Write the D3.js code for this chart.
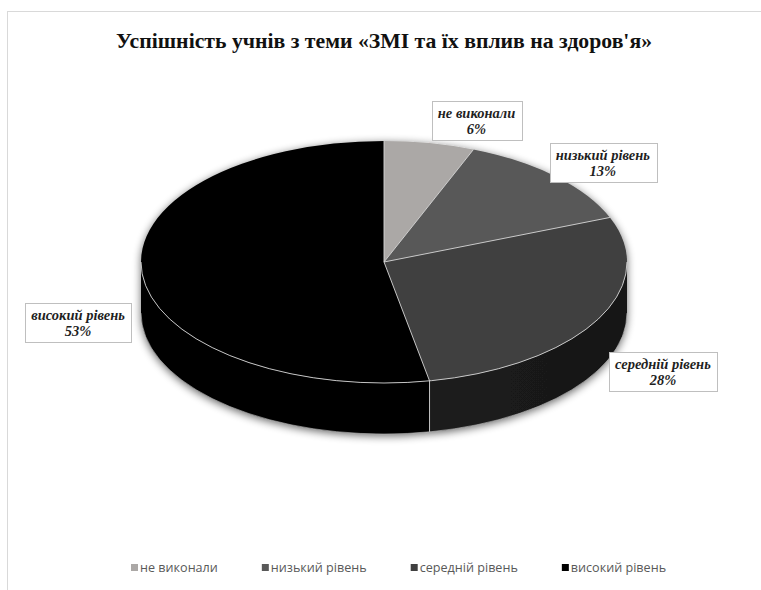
<!DOCTYPE html>
<html>
<head>
<meta charset="utf-8">
<script src="https://cdn.jsdelivr.net/npm/d3@7"></script>
<style>
  html, body { margin: 0; padding: 0; background: #fff; }
  svg { display: block; }
</style>
</head>
<body>
<svg id="chart" width="761" height="590"></svg>
<script>
// ---- data ----
const title = "Успішність учнів з теми «ЗМІ та їх вплив на здоров'я»";
const categories = ["не виконали", "низький рівень", "середній рівень", "високий рівень"];
const values = [6, 13, 28, 53];
const percentLabels = ["6%", "13%", "28%", "53%"];
const topColors = ["#aba8a6", "#595959", "#404040", "#000000"];
const sideColors = ["#8a8786", "#3a3a3a", "#1e1e1e", "#000000"];
// label offsets (layout) from the slice's mid point on the rim
const labelOffsets = [[47, -22], [47, -13], [66, 52], [-64, 50]];

// ---- layout ----
const W = 761, H = 590;
const cx = 384, cy = 262, rx = 243, ry = 121, depth = 51;

const svg = d3.select("#chart");

// chart border
svg.append("rect")
  .attr("x", 7.5).attr("y", 11.5).attr("width", 800).attr("height", 640)
  .attr("fill", "#fff").attr("stroke", "#d9d9d9").attr("stroke-width", 1);

// title
const tt = svg.append("text")
  .attr("x", cx).attr("y", 48)
  .attr("text-anchor", "middle")
  .attr("font-family", "'Liberation Serif', 'Times New Roman', serif")
  .attr("font-weight", "bold")
  .attr("font-size", 22)
  .attr("fill", "#111")
  .text(title);
if (tt.node().getComputedTextLength() > 536) {
  tt.attr("textLength", 536).attr("lengthAdjust", "spacingAndGlyphs");
}

const defs = svg.append("defs");
const f = defs.append("filter").attr("id", "shadow")
  .attr("x", "-10%").attr("y", "-10%").attr("width", "120%").attr("height", "130%");
f.append("feGaussianBlur").attr("in", "SourceAlpha").attr("stdDeviation", 4).attr("result", "b");
f.append("feOffset").attr("in", "b").attr("dx", 0).attr("dy", 2).attr("result", "o");
f.append("feComponentTransfer").attr("in", "o").attr("result", "s")
  .append("feFuncA").attr("type", "linear").attr("slope", 0.6);
const m = f.append("feMerge");
m.append("feMergeNode").attr("in", "s");
m.append("feMergeNode").attr("in", "SourceGraphic");

const sideGrad = defs.append("linearGradient").attr("id", "sideGrad")
  .attr("x1", "0").attr("x2", "1").attr("y1", "0").attr("y2", "0");
sideGrad.append("stop").attr("offset", "0").attr("stop-color", "#1c1c1c");
sideGrad.append("stop").attr("offset", "1").attr("stop-color", "#171717");

const color = d3.scaleOrdinal().domain(categories).range(topColors);
const sideColor = d3.scaleOrdinal().domain(categories).range(sideColors);

const pie = d3.pie().sort(null).value(d => d.value);
const arcs = pie(categories.map((c, i) => ({ cat: c, value: values[i], pct: percentLabels[i], off: labelOffsets[i] })));

const pt = (a, dy = 0) => [cx + rx * Math.sin(a), cy - ry * Math.cos(a) + dy];

const g = svg.append("g").attr("filter", "url(#shadow)");

// side faces (front half only: angles PI/2 .. 3PI/2)
arcs.forEach(d => {
  const a0 = Math.max(d.startAngle, Math.PI / 2);
  const a1 = Math.min(d.endAngle, 3 * Math.PI / 2);
  if (a1 <= a0) return;
  const p0 = pt(a0), p1 = pt(a1), q1 = pt(a1, depth), q0 = pt(a0, depth);
  const large = (a1 - a0) > Math.PI ? 1 : 0;
  const path = `M${p0[0]},${p0[1]} A${rx},${ry} 0 ${large} 1 ${p1[0]},${p1[1]} L${q1[0]},${q1[1]} A${rx},${ry} 0 ${large} 0 ${q0[0]},${q0[1]} Z`;
  g.append("path")
    .attr("d", path)
    .attr("fill", d.data.cat === "середній рівень" ? "url(#sideGrad)" : sideColor(d.data.cat))
    .attr("stroke", "none");
});

// top faces
arcs.forEach(d => {
  const p0 = pt(d.startAngle), p1 = pt(d.endAngle);
  const large = (d.endAngle - d.startAngle) > Math.PI ? 1 : 0;
  const path = `M${cx},${cy} L${p0[0]},${p0[1]} A${rx},${ry} 0 ${large} 1 ${p1[0]},${p1[1]} Z`;
  g.append("path")
    .attr("d", path)
    .attr("fill", color(d.data.cat))
    .attr("stroke", "none");
});

// edges (light lines)
const edge = svg.append("g").attr("fill", "none").attr("stroke", "#d6d6d6").attr("stroke-width", 0.9);
arcs.forEach(d => {
  const p0 = pt(d.startAngle);
  edge.append("line").attr("x1", cx).attr("y1", cy).attr("x2", p0[0]).attr("y2", p0[1]);
});
{
  const l = pt(Math.PI / 2), r = pt(3 * Math.PI / 2);
  edge.append("path").attr("d", `M${l[0]},${l[1]} A${rx},${ry} 0 0 1 ${r[0]},${r[1]}`);
  const lb = pt(Math.PI / 2, depth), rb = pt(3 * Math.PI / 2, depth);
  edge.append("path").attr("d", `M${lb[0]},${lb[1]} A${rx},${ry} 0 0 1 ${rb[0]},${rb[1]}`).attr("stroke", "#bdbdbd").attr("stroke-width", 0.6);
  arcs.forEach(d => {
    const a = d.startAngle;
    if (a > Math.PI / 2 && a < 3 * Math.PI / 2) {
      const t = pt(a), b = pt(a, depth);
      edge.append("line").attr("x1", t[0]).attr("y1", t[1]).attr("x2", b[0]).attr("y2", b[1]);
    }
  });
}

// labels
const lab = svg.append("g");
arcs.forEach(d => {
  const mid = (d.startAngle + d.endAngle) / 2;
  const p = pt(mid);
  const lx = p[0] + d.data.off[0], ly = p[1] + d.data.off[1];
  const grp = lab.append("g");
  const rect = grp.append("rect").attr("fill", "#fff").attr("stroke", "#bfbfbf").attr("stroke-width", 1);
  const t = grp.append("text")
    .attr("text-anchor", "middle")
    .attr("font-family", "'Liberation Serif', 'Times New Roman', serif")
    .attr("font-weight", "bold").attr("font-style", "italic")
    .attr("font-size", 14.5).attr("fill", "#1f1f1f");
  t.append("tspan").attr("x", lx).attr("y", ly - 3).text(d.data.cat);
  t.append("tspan").attr("x", lx).attr("y", ly + 13).text(d.data.pct);
  const bb = t.node().getBBox();
  const bw = bb.width + 12, bh = 39;
  rect.attr("x", Math.round(lx - bw / 2) + 0.5).attr("y", Math.round(ly - 20) + 0.5)
      .attr("width", Math.round(bw)).attr("height", bh);
});

// legend
const leg = svg.append("g");
let lxPos = 131;
const legY = 568;
categories.forEach((c, i) => {
  leg.append("rect").attr("x", lxPos).attr("y", legY - 4).attr("width", 7).attr("height", 7).attr("fill", color(c));
  const t = leg.append("text").attr("x", lxPos + 9).attr("y", legY + 4)
    .attr("font-family", "'Open Sans', sans-serif").attr("font-size", 12.6).attr("fill", "#595959")
    .text(c);
  const w = t.node().getComputedTextLength();
  lxPos = lxPos + 9 + w + 44;
});
</script>
</body>
</html>
